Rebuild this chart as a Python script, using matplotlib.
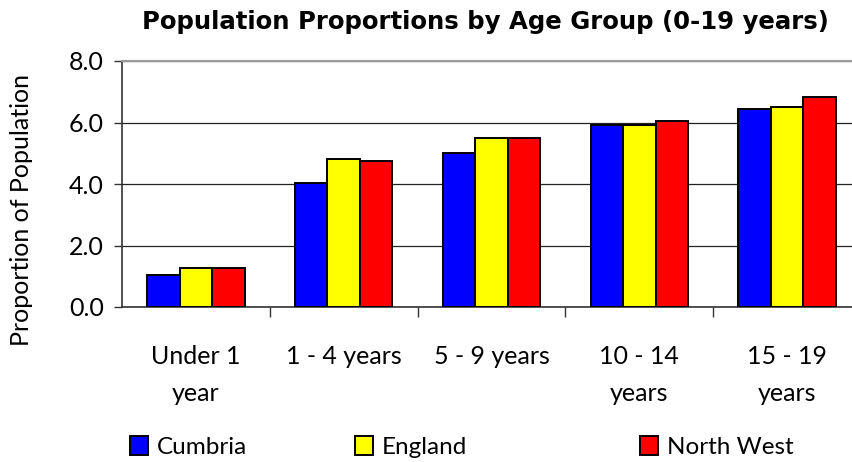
import numpy as np
import matplotlib
matplotlib.use("Agg")
import matplotlib.pyplot as plt
from matplotlib.ticker import FixedLocator, NullFormatter

plt.rcParams['font.family'] = ['Lato', 'DejaVu Sans']

categories = ["Under 1\nyear", "1 - 4 years", "5 - 9 years", "10 - 14\nyears", "15 - 19\nyears"]
series_names = ["Cumbria", "England", "North West"]
cumbria = [1.04, 4.02, 5.00, 5.91, 6.43]
england = [1.28, 4.81, 5.51, 5.91, 6.49]
north_west = [1.28, 4.74, 5.51, 6.04, 6.82]
colors = ["#0000ff", "#ffff00", "#ff0000"]
yticks = [0.0, 2.0, 4.0, 6.0, 8.0]

fig = plt.figure(figsize=(8.52, 4.62), dpi=100)
# the plot area runs past the right edge of the picture, as in the original
ax = fig.add_axes([122/852, 155/462, 739/852, 246/462])

x = np.arange(len(categories))
w = 0.22
bars = []
for i, (vals, c) in enumerate(zip([cumbria, england, north_west], colors)):
    b = ax.bar(x + (i - 1) * w, vals, w, color=c, edgecolor="black",
               linewidth=1.4, zorder=3)
    bars.append(b)

ax.set_xlim(-0.5, len(categories) - 0.5)
ax.set_ylim(0, 8)
ax.set_yticks(yticks)
ax.set_yticklabels([f"{v:.1f}" for v in yticks], fontsize=18)
ax.yaxis.grid(True, color="#222222", linewidth=0.9, zorder=0)

ax.set_xticks(x)
ax.set_xticklabels(categories, fontsize=18, linespacing=1.75, va="top")
ax.tick_params(axis="x", which="major", length=0, pad=27)
ax.xaxis.set_minor_locator(FixedLocator(np.arange(0.5, len(categories) - 0.5, 1)))
ax.xaxis.set_minor_formatter(NullFormatter())
ax.tick_params(axis="x", which="minor", length=7, width=1, color="#333333")
ax.tick_params(axis="y", length=6, width=1, color="#333333", pad=7)

ax.spines["top"].set_color("#9a9a9a")
ax.spines["top"].set_linewidth(1.5)
ax.spines["right"].set_visible(False)
ax.spines["left"].set_color("#333333")
ax.spines["left"].set_linewidth(1.2)
ax.spines["bottom"].set_color("#333333")
ax.spines["bottom"].set_linewidth(1.2)

fig.text(22/852, 1 - 210/462, "Proportion of Population", rotation=90,
         ha="center", va="center", fontsize=18)

fig.text(485/852, 1 - 22/462, "Population Proportions by Age Group (0-19 years)",
         ha="center", va="center", fontsize=17.6, fontweight="bold",
         family="DejaVu Sans")

# separate legend entries spaced like the original
legend_x = [130, 355, 640]
for b, name, lx in zip(bars, series_names, legend_x):
    fig.legend([b], [name], loc="center left", bbox_to_anchor=(lx/852, 1 - 447/462),
               frameon=False, fontsize=17.5, handlelength=0.75, handleheight=0.8,
               handletextpad=0.35, borderpad=0, borderaxespad=0)

fig.savefig("out.png", dpi=100)
